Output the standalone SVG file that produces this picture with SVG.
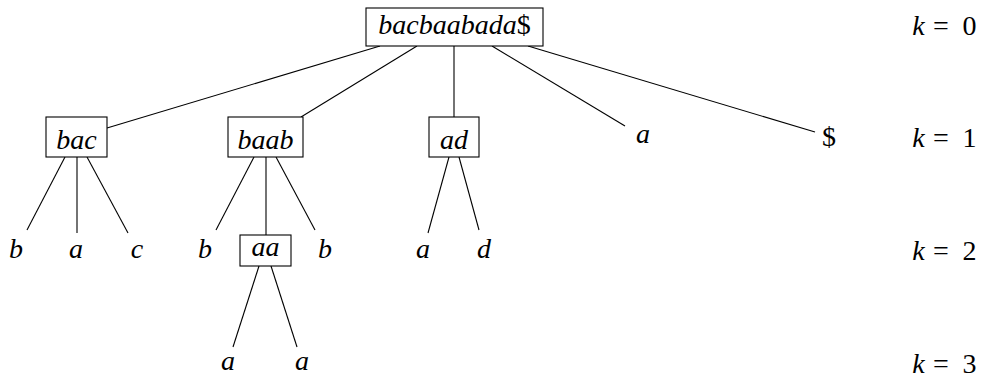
<svg xmlns="http://www.w3.org/2000/svg" width="988" height="385" viewBox="0 0 988 385" font-family="Liberation Serif">
<style>
.t{font-family:"Liberation Serif","Times New Roman",serif !important;font-size:28px;font-style:italic;fill:#000;text-anchor:middle}
.u{font-style:normal}
.box{fill:#fff;stroke:#000;stroke-width:1.1}
.e{stroke:#000;stroke-width:1.1;fill:none}
</style>
<rect width="988" height="385" fill="#fff"/>
<g id="connectors">
<line class="e" x1="380" y1="46" x2="107" y2="128"/>
<line class="e" x1="417" y1="46" x2="301" y2="117"/>
<line class="e" x1="454" y1="46" x2="454" y2="117"/>
<line class="e" x1="492" y1="46" x2="625" y2="126"/>
<line class="e" x1="528" y1="46" x2="815" y2="132"/>
<line class="e" x1="65" y1="157" x2="27" y2="230"/>
<line class="e" x1="77" y1="157" x2="77" y2="233"/>
<line class="e" x1="87" y1="157" x2="128" y2="233"/>
<line class="e" x1="254" y1="157" x2="216" y2="230"/>
<line class="e" x1="266" y1="157" x2="266" y2="235"/>
<line class="e" x1="276" y1="157" x2="315" y2="230"/>
<line class="e" x1="449" y1="157" x2="428" y2="233"/>
<line class="e" x1="459" y1="157" x2="479" y2="230"/>
<line class="e" x1="259" y1="266" x2="233" y2="347"/>
<line class="e" x1="271" y1="266" x2="297" y2="347"/>
</g>
<g id="root"><rect class="box" x="366" y="8" width="177" height="38"/><text class="t" x="454.5" y="34">bacbaabada<tspan class="u">$</tspan></text></g>
<g id="n-bac"><rect class="box" x="46" y="117" width="61" height="40"/><text class="t" x="76.5" y="149">bac</text></g>
<g id="n-baab"><rect class="box" x="228" y="117" width="75" height="40"/><text class="t" x="265.5" y="149">baab</text></g>
<g id="n-ad"><rect class="box" x="429" y="117" width="50" height="40"/><text class="t" x="454" y="149">ad</text></g>
<g id="n-a1"><text class="t" x="643" y="143">a</text></g>
<g id="n-dollar"><text class="t u" x="829" y="146">$</text></g>
<g id="n-bac-b"><text class="t" x="16" y="258">b</text></g>
<g id="n-bac-a"><text class="t" x="76" y="258">a</text></g>
<g id="n-bac-c"><text class="t" x="137" y="258">c</text></g>
<g id="n-baab-b1"><text class="t" x="205" y="258">b</text></g>
<g id="n-aa"><rect class="box" x="240" y="235" width="51" height="31"/><text class="t" x="265.5" y="256">aa</text></g>
<g id="n-baab-b2"><text class="t" x="325" y="258">b</text></g>
<g id="n-ad-a"><text class="t" x="423" y="258">a</text></g>
<g id="n-ad-d"><text class="t" x="484" y="258">d</text></g>
<g id="n-aa-a1"><text class="t" x="228" y="370">a</text></g>
<g id="n-aa-a2"><text class="t" x="302" y="370">a</text></g>
<g id="levels">
<text class="t" y="35"><tspan x="918.5">k</tspan><tspan class="u" x="941">=</tspan><tspan class="u" x="969.5">0</tspan></text>
<text class="t" y="147"><tspan x="918.5">k</tspan><tspan class="u" x="941">=</tspan><tspan class="u" x="969.5">1</tspan></text>
<text class="t" y="260"><tspan x="918.5">k</tspan><tspan class="u" x="941">=</tspan><tspan class="u" x="969.5">2</tspan></text>
<text class="t" y="373"><tspan x="918.5">k</tspan><tspan class="u" x="941">=</tspan><tspan class="u" x="969.5">3</tspan></text>
</g>
</svg>
